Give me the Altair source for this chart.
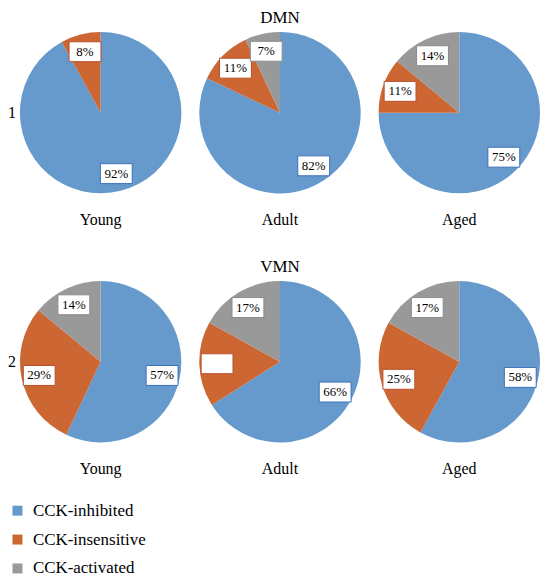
import altair as alt
import pandas as pd

groups = ["Young", "Adult", "Aged"]
categories = ["CCK-inhibited", "CCK-insensitive", "CCK-activated"]
colors = ["#6699cc", "#cc6633", "#999999"]
box_strokes = ["#3d6fb8", "#b8502a", "#8a8a8a"]
regions = ["DMN", "VMN"]
row_labels = ["1", "2"]
dmn_values = [[92, 8, 0], [82, 11, 7], [75, 11, 14]]
vmn_values = [[57, 29, 14], [66, 17, 17], [58, 25, 17]]
dmn_labels = [["92%", "8%", ""], ["82%", "11%", "7%"], ["75%", "11%", "14%"]]
vmn_labels = [["57%", "29%", "14%"], ["66%", "", "17%"], ["58%", "25%", "17%"]]

SERIF = "Liberation Serif"
R = 81          # pie radius in px (cell is 2R wide)
LABEL_R = 0.78  # label distance as fraction of radius
BW = 16 / R     # half box width in data units
BH = 10 / R     # half box height in data units


def region_df(region, rowlab, values, labels):
    rows = []
    for g, vals, labs in zip(groups, values, labels):
        for i, (c, v, l) in enumerate(zip(categories, vals, labs)):
            rows.append(dict(region=region, rowlab=rowlab, group=g, category=c,
                             idx=i, value=v, label=l))
    return pd.DataFrame(rows)


dfs = [region_df(regions[0], row_labels[0], dmn_values, dmn_labels),
       region_df(regions[1], row_labels[1], vmn_values, vmn_labels)]

xs = alt.Scale(domain=[-1, 1], nice=False, zero=False)
ys = alt.Scale(domain=[-1, 1], nice=False, zero=False)

arc = alt.Chart().mark_arc(outerRadius=R).encode(
    theta=alt.Theta("value:Q", stack=True),
    color=alt.Color("category:N", scale=alt.Scale(domain=categories, range=colors),
                    legend=alt.Legend(title=None)),
    order=alt.Order("idx:Q"),
)

box = alt.Chart().mark_rect(fill="white", strokeWidth=1).encode(
    x=alt.X("bx1:Q", scale=xs, axis=None),
    x2="bx2:Q",
    y=alt.Y("by1:Q", scale=ys, axis=None),
    y2="by2:Q",
    stroke=alt.Stroke("category:N", scale=alt.Scale(domain=categories, range=box_strokes),
                      legend=None),
)

txt = alt.Chart().mark_text(font=SERIF, fontSize=13, color="black").encode(
    x=alt.X("lx:Q", scale=xs, axis=None),
    y=alt.Y("ly:Q", scale=ys, axis=None),
    text="label:N",
)

pie = alt.layer(arc, box, txt).transform_filter(
    "datum.value > 0"
).transform_window(
    cum="sum(value)", groupby=["region", "group"], sort=[alt.SortField("idx")],
    frame=[None, 0]
).transform_calculate(
    mid="(datum.cum - datum.value / 2) / 100 * 2 * PI"
).transform_calculate(
    lx=f"{LABEL_R} * sin(datum.mid)",
    ly=f"{LABEL_R} * cos(datum.mid)",
).transform_calculate(
    bx1=f"datum.lx - {BW}",
    bx2=f"datum.lx + {BW}",
    by1=f"datum.ly - {BH}",
    by2=f"datum.ly + {BH}",
).properties(width=2 * R, height=2 * R)


def facet_row(df, region):
    return pie.facet(
        data=df,
        column=alt.Column("group:N", sort=groups,
                          header=alt.Header(title=None, labelOrient="bottom",
                                            labelFont=SERIF, labelFontSize=16,
                                            labelPadding=19, labelColor="black")),
        row=alt.Row("rowlab:N",
                    header=alt.Header(title=None, labelOrient="left", labelAngle=0,
                                      labelFont=SERIF, labelFontSize=16,
                                      labelPadding=-4, labelColor="black")),
        spacing={"column": 18, "row": 0},
        title=alt.TitleParams(region, font=SERIF, fontSize=17, fontWeight="normal",
                              anchor="middle", offset=5, dx=6, color="black"),
    )


chart = alt.vconcat(facet_row(dfs[0], regions[0]), facet_row(dfs[1], regions[1]),
                    spacing=30).properties(
    padding={"top": 0, "left": 0, "right": 0, "bottom": 0}
).configure_view(
    stroke=None
).configure_legend(
    orient="none", legendX=-11, legendY=472, direction="vertical",
    symbolType="square", symbolSize=100, symbolStrokeWidth=0,
    labelFont=SERIF, labelFontSize=17, labelColor="black",
    rowPadding=11, labelOffset=7,
)

chart.save("out.html", embed_options={"renderer": "svg", "actions": False})
